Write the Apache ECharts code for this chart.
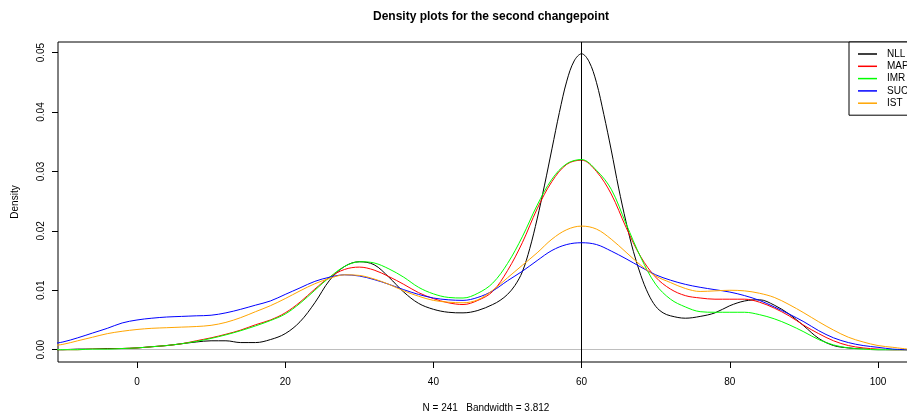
<!DOCTYPE html>
<html>
<head>
<meta charset="utf-8">
<script src="https://cdn.jsdelivr.net/npm/echarts@6/dist/echarts.min.js"></script>
<style>
html,body{margin:0;padding:0;background:#fff;}
#chart{width:907px;height:418px;}
</style>
</head>
<body>
<div id="chart"></div>
<script>
const xs = [-12,-10,-8,-6,-4,-2,0,2,4,6,8,10,12,14,16,18,20,22,24,26,28,30,32,34,36,38,40,42,44,46,48,50,52,54,56,58,60,62,64,66,68,70,72,74,76,78,80,82,84,86,88,90,92,94,96,98,100,102,104];
const nllXs = [-12,-10,-8,-6,-4,-2,0,2,4,6,8,10,12,14,16,18,20,22,24,26,28,30,32,34,36,38,40,42,44,46,48,49,50,51,52,53,54,55,56,57,58,59,60,61,62,63,64,65,66,67,68,69,70,71,72,74,76,78,80,82,84,86,88,90,92,94,96,98,100,102,104];
const nll = [0.0000,0.0000,0.0001,0.0001,0.0002,0.0002,0.0003,0.0005,0.0007,0.0010,0.0013,0.0015,0.0015,0.0012,0.0012,0.0017,0.0027,0.0047,0.0079,0.0117,0.0140,0.0148,0.0143,0.0122,0.0097,0.0078,0.0068,0.0063,0.0062,0.0066,0.0076,0.0083,0.0093,0.0108,0.0131,0.0170,0.0220,0.0277,0.0338,0.0399,0.0452,0.0486,0.0498,0.0485,0.0450,0.0396,0.0336,0.0272,0.0215,0.0165,0.0125,0.0094,0.0073,0.0062,0.0057,0.0053,0.0056,0.0062,0.0074,0.0082,0.0084,0.0075,0.0060,0.0040,0.0019,0.0007,0.0003,0.0001,0.0000,0.0000,0.0000];
const map = [0.0000,0.0000,0.0000,0.0001,0.0001,0.0002,0.0003,0.0005,0.0007,0.0010,0.0015,0.0020,0.0026,0.0033,0.0042,0.0050,0.0062,0.0080,0.0102,0.0122,0.0135,0.0139,0.0134,0.0123,0.0110,0.0096,0.0086,0.0079,0.0076,0.0083,0.0098,0.0133,0.0180,0.0237,0.0283,0.0312,0.0319,0.0300,0.0262,0.0206,0.0156,0.0122,0.0102,0.0091,0.0087,0.0085,0.0085,0.0085,0.0080,0.0070,0.0057,0.0041,0.0027,0.0015,0.0007,0.0003,0.0001,0.0000,0.0000];
const imr = [0.0000,0.0000,0.0000,0.0001,0.0001,0.0002,0.0003,0.0005,0.0007,0.0010,0.0014,0.0019,0.0025,0.0032,0.0040,0.0049,0.0060,0.0078,0.0100,0.0122,0.0140,0.0148,0.0146,0.0136,0.0122,0.0105,0.0094,0.0088,0.0087,0.0095,0.0112,0.0145,0.0190,0.0243,0.0287,0.0313,0.0320,0.0302,0.0270,0.0212,0.0155,0.0110,0.0085,0.0072,0.0064,0.0063,0.0063,0.0063,0.0059,0.0052,0.0042,0.0030,0.0017,0.0008,0.0003,0.0001,0.0000,0.0000,0.0000];
const suc = [0.0009,0.0013,0.0020,0.0028,0.0036,0.0045,0.0050,0.0053,0.0055,0.0056,0.0057,0.0058,0.0062,0.0068,0.0075,0.0082,0.0093,0.0104,0.0115,0.0122,0.0126,0.0124,0.0118,0.0110,0.0101,0.0093,0.0087,0.0084,0.0083,0.0088,0.0099,0.0116,0.0132,0.0150,0.0167,0.0177,0.0180,0.0177,0.0166,0.0153,0.0139,0.0126,0.0117,0.0110,0.0105,0.0101,0.0097,0.0091,0.0083,0.0072,0.0060,0.0047,0.0032,0.0020,0.0012,0.0007,0.0004,0.0001,0.0000];
const ist = [0.0006,0.0009,0.0015,0.0021,0.0027,0.0031,0.0034,0.0036,0.0037,0.0038,0.0039,0.0041,0.0046,0.0054,0.0064,0.0074,0.0086,0.0099,0.0111,0.0120,0.0126,0.0125,0.0119,0.0110,0.0099,0.0090,0.0083,0.0080,0.0079,0.0084,0.0100,0.0121,0.0142,0.0163,0.0186,0.0202,0.0208,0.0203,0.0186,0.0164,0.0142,0.0124,0.0113,0.0103,0.0098,0.0099,0.0100,0.0099,0.0095,0.0088,0.0076,0.0062,0.0047,0.0033,0.0021,0.0013,0.0007,0.0004,0.0001];
const seriesNames = ['NLL','MAP','IMR','SUC','IST'];
const seriesColors = ['#000000','#FF0000','#00FF00','#0000FF','#FFA500'];
const xTicks = [0,20,40,60,80,100];
const yTicks = [0,0.01,0.02,0.03,0.04,0.05];
const changepoint = 60;

const FONT = '"Liberation Sans", Arial, Helvetica, sans-serif';
const allData = [nll, map, imr, suc, ist];
const allXs = [nllXs, xs, xs, xs, xs];
const chart = echarts.init(document.getElementById('chart'), null, {renderer:'canvas'});

const series = allData.map((vals, i) => ({
  name: seriesNames[i],
  type: 'line',
  data: allXs[i].map((x, j) => [x, vals[j]]),
  showSymbol: false,
  symbol: 'none',
  smooth: 0.35,
  lineStyle: {color: seriesColors[i], width: 1},
  itemStyle: {color: seriesColors[i]},
  z: 3 + i,
  animation: false
}));

series.unshift({
  name: 'refs',
  type: 'line',
  data: [],
  silent: true,
  animation: false,
  markLine: {
    silent: true,
    symbol: ['none','none'],
    label: {show: false},
    animation: false,
    data: [
      {yAxis: 0, lineStyle: {color: '#BEBEBE', width: 1, type: 'solid'}},
      {xAxis: changepoint, lineStyle: {color: '#000000', width: 1, type: 'solid'}}
    ]
  },
  z: 2
});

const option = {
  backgroundColor: '#ffffff',
  animation: false,
  title: {
    text: 'Density plots for the second changepoint',
    left: 486,
    top: 6,
    textAlign: 'center',
    textStyle: {fontFamily: FONT, fontSize: 12, fontWeight: 'bold', color: '#000'}
  },
  legend: {
    data: seriesNames,
    orient: 'vertical',
    left: 849,
    top: 42,
    padding: [6, 30, 6, 9],
    itemGap: 0.3,
    itemWidth: 19,
    itemHeight: 1.5,
    icon: 'rect',
    borderColor: '#000',
    borderWidth: 1,
    backgroundColor: '#fff',
    selectedMode: false,
    textStyle: {fontFamily: FONT, fontSize: 10, color: '#000', lineHeight: 12, padding: [0,0,0,5]}
  },
  grid: {
    left: 58, top: 42, width: 856, height: 320,
    show: true, borderColor: '#000', borderWidth: 1, backgroundColor: 'transparent',
    containLabel: false,
    outerBoundsMode: 'none'
  },
  xAxis: {
    type: 'value',
    min: -10.66, max: 104.86,
    name: 'N = 241   Bandwidth = 3.812',
    nameLocation: 'middle',
    nameGap: 41,
    nameTextStyle: {fontFamily: FONT, fontSize: 10, color: '#000'},
    axisLine: {show: false, onZero: false},
    axisTick: {show: true, inside: false, length: 6, lineStyle: {color: '#000'}, customValues: xTicks},
    axisLabel: {show: true, margin: 15, fontFamily: FONT, fontSize: 10, color: '#000', customValues: xTicks},
    splitLine: {show: false}
  },
  yAxis: {
    type: 'value',
    min: -0.00207, max: 0.05178,
    name: 'Density',
    nameLocation: 'middle',
    nameGap: 38,
    nameRotate: 90,
    nameTextStyle: {fontFamily: FONT, fontSize: 10, color: '#000'},
    axisLine: {show: false, onZero: false},
    axisTick: {show: true, inside: false, length: 6, lineStyle: {color: '#000'}, customValues: yTicks},
    axisLabel: {show: true, rotate: 90, margin: 12, fontFamily: FONT, fontSize: 10, color: '#000', customValues: yTicks,
      formatter: v => v.toFixed(2)},
    splitLine: {show: false}
  },
  series: series
};
chart.setOption(option);
</script>
</body>
</html>
